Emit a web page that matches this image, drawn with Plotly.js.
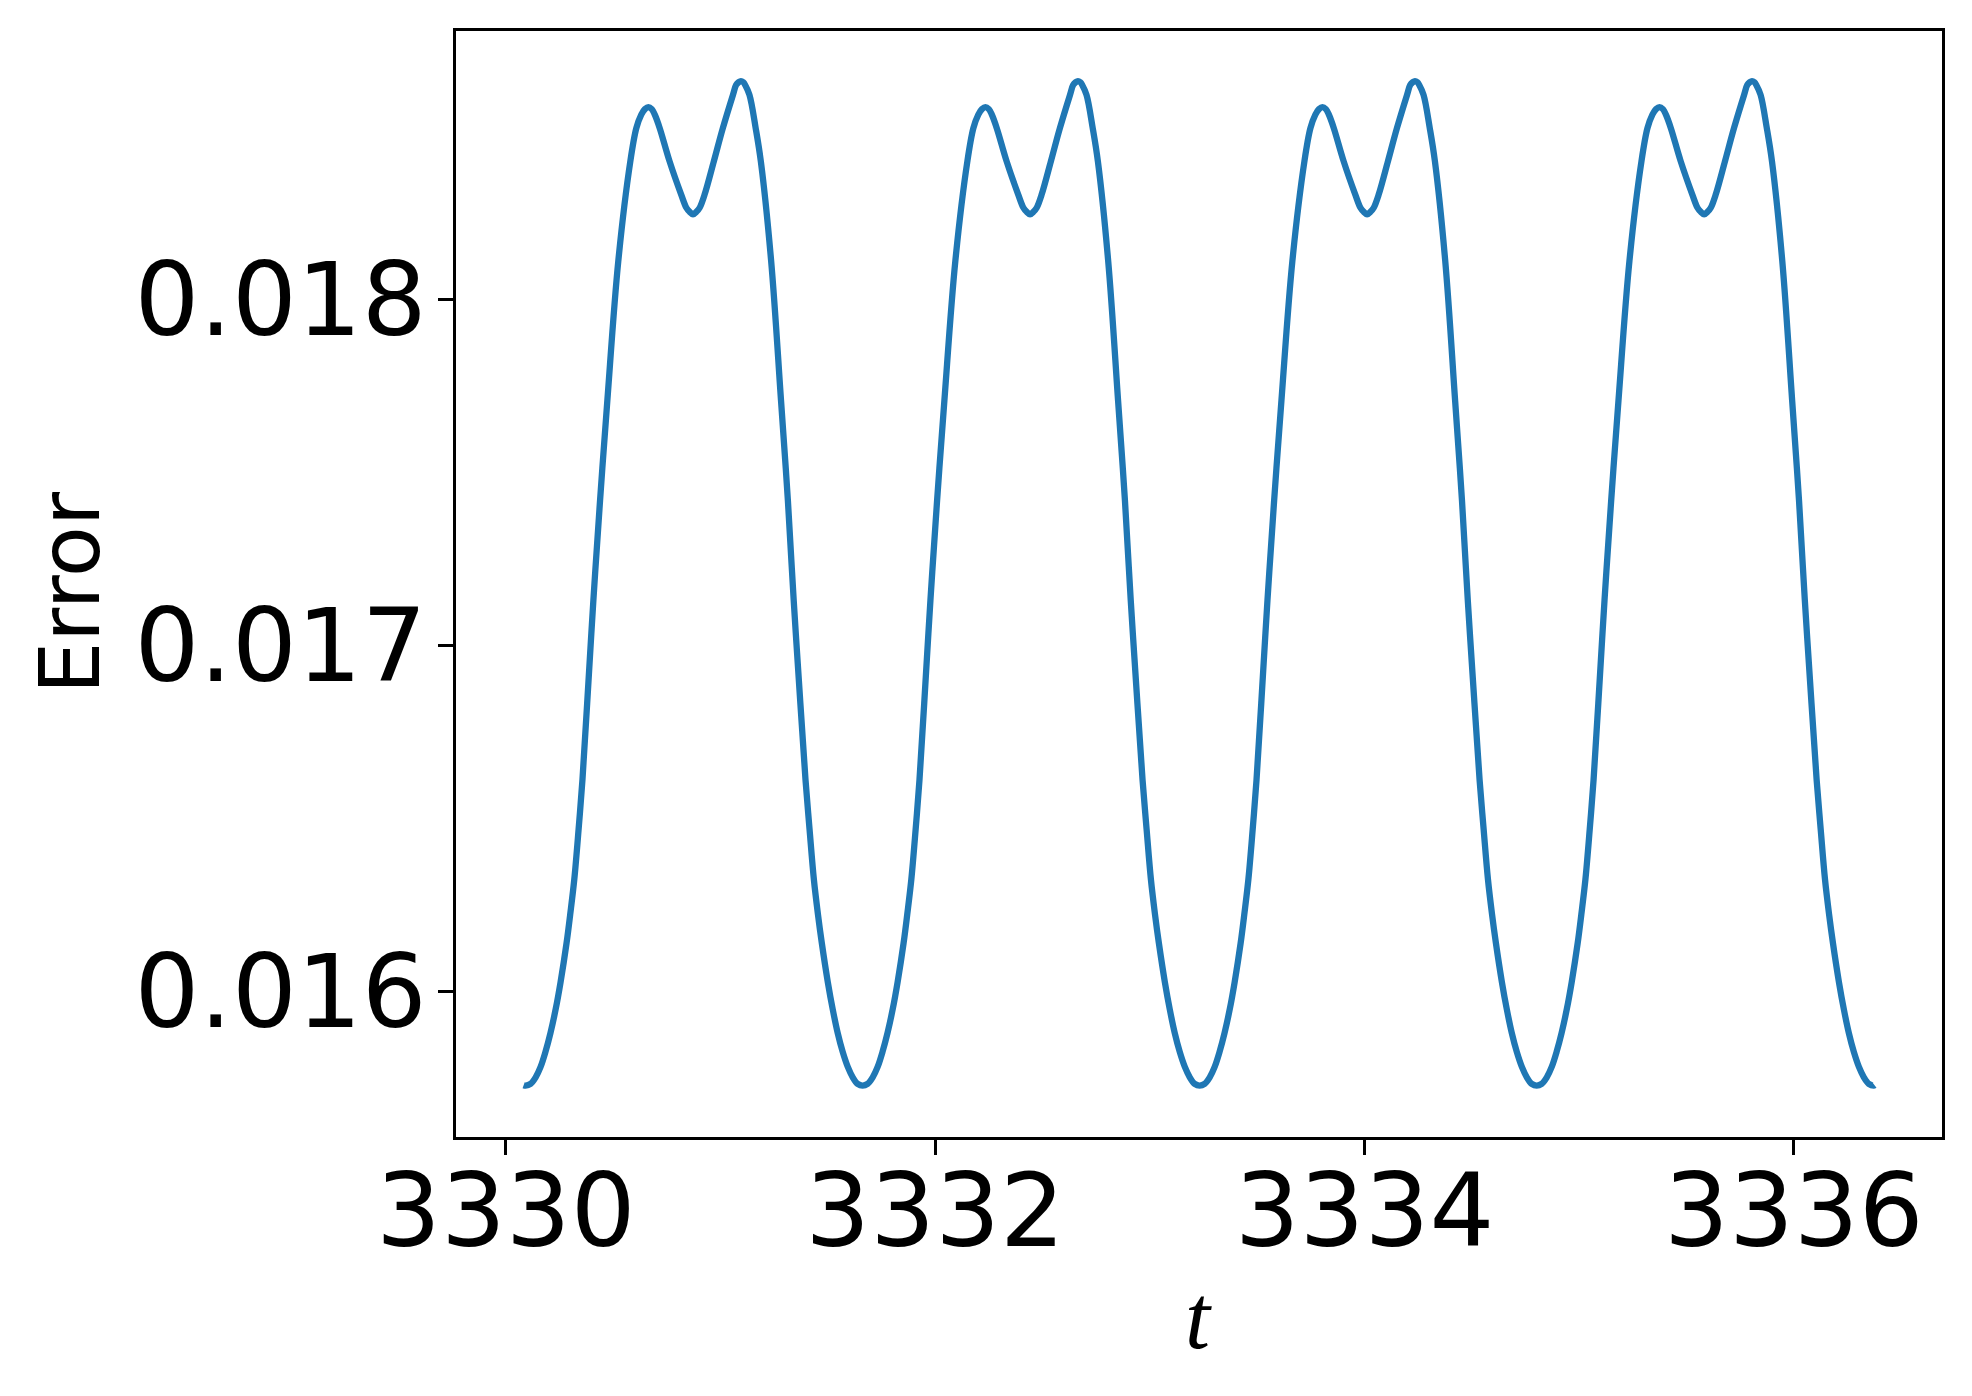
<!DOCTYPE html>
<html>
<head>
<meta charset="utf-8">
<script src="https://cdn.plot.ly/plotly-3.0.1.min.js"></script>
<style>html,body{margin:0;padding:0;background:#fff;}#chart{width:1972px;height:1396px;}</style>
</head>
<body>
<div id="chart"></div>
<script>
// Time values (t)
const tValues = [
  3330.083,
  3330.092, 3330.115, 3330.139, 3330.162, 3330.185, 3330.208, 3330.232, 3330.255, 3330.283, 3330.300,
  3330.319, 3330.339, 3330.357, 3330.380, 3330.408, 3330.439, 3330.473, 3330.524, 3330.580, 3330.608, 3330.631,
  3330.648, 3330.664, 3330.680, 3330.694, 3330.717, 3330.763, 3330.817, 3330.841, 3330.855, 3330.872,
  3330.889, 3330.903, 3330.926, 3330.969, 3331.011, 3331.058, 3331.073, 3331.085, 3331.095, 3331.106,
  3331.115, 3331.135, 3331.164, 3331.188, 3331.236, 3331.282, 3331.314, 3331.341, 3331.371, 3331.396, 3331.415,
  3331.435, 3331.454, 3331.472, 3331.500, 3331.523, 3331.546, 3331.569, 3331.593, 3331.616, 3331.639,
  3331.662,
  3331.685, 3331.709, 3331.732, 3331.755, 3331.778, 3331.802, 3331.825, 3331.853, 3331.870,
  3331.889, 3331.909, 3331.927, 3331.950, 3331.978, 3332.009, 3332.043, 3332.094, 3332.150, 3332.178, 3332.201,
  3332.218, 3332.234, 3332.250, 3332.264, 3332.287, 3332.333, 3332.387, 3332.411, 3332.425, 3332.442,
  3332.459, 3332.473, 3332.496, 3332.539, 3332.581, 3332.628, 3332.643, 3332.655, 3332.665, 3332.676,
  3332.685, 3332.705, 3332.734, 3332.758, 3332.806, 3332.852, 3332.884, 3332.911, 3332.941, 3332.966, 3332.985,
  3333.005, 3333.024, 3333.042, 3333.070, 3333.093, 3333.116, 3333.139, 3333.163, 3333.186, 3333.209,
  3333.232,
  3333.255, 3333.279, 3333.302, 3333.325, 3333.348, 3333.372, 3333.395, 3333.423, 3333.440,
  3333.459, 3333.479, 3333.497, 3333.520, 3333.548, 3333.579, 3333.613, 3333.664, 3333.720, 3333.748, 3333.771,
  3333.788, 3333.804, 3333.820, 3333.834, 3333.857, 3333.903, 3333.957, 3333.981, 3333.995, 3334.012,
  3334.029, 3334.043, 3334.066, 3334.109, 3334.151, 3334.198, 3334.213, 3334.225, 3334.235, 3334.246,
  3334.255, 3334.275, 3334.304, 3334.328, 3334.376, 3334.422, 3334.454, 3334.481, 3334.511, 3334.536, 3334.555,
  3334.575, 3334.594, 3334.612, 3334.640, 3334.663, 3334.686, 3334.709, 3334.733, 3334.756, 3334.779,
  3334.802,
  3334.825, 3334.849, 3334.872, 3334.895, 3334.918, 3334.942, 3334.965, 3334.993, 3335.010,
  3335.029, 3335.049, 3335.067, 3335.090, 3335.118, 3335.149, 3335.183, 3335.234, 3335.290, 3335.318, 3335.341,
  3335.358, 3335.374, 3335.390, 3335.404, 3335.427, 3335.473, 3335.527, 3335.551, 3335.565, 3335.582,
  3335.599, 3335.613, 3335.636, 3335.679, 3335.721, 3335.768, 3335.783, 3335.795, 3335.805, 3335.816,
  3335.825, 3335.845, 3335.874, 3335.898, 3335.946, 3335.992, 3336.024, 3336.051, 3336.081, 3336.106, 3336.125,
  3336.145, 3336.164, 3336.182, 3336.210, 3336.233, 3336.256, 3336.279, 3336.303, 3336.326, 3336.349,
  3336.372,
  3336.376
];

// Error values
const errorValues = [
  0.015729,
  0.015728, 0.015733, 0.015752, 0.015782, 0.015826, 0.015880, 0.015948, 0.016027, 0.016140, 0.016223,
  0.016324, 0.016468, 0.016612, 0.016843, 0.017131, 0.017419, 0.017708, 0.018111, 0.018399, 0.018495, 0.018534,
  0.018550, 0.018556, 0.018550, 0.018534, 0.018495, 0.018399, 0.018303, 0.018265, 0.018254, 0.018246,
  0.018254, 0.018265, 0.018303, 0.018399, 0.018495, 0.018591, 0.018620, 0.018628, 0.018631, 0.018628,
  0.018620, 0.018591, 0.018495, 0.018399, 0.018111, 0.017708, 0.017419, 0.017131, 0.016843, 0.016612, 0.016468,
  0.016324, 0.016223, 0.016140, 0.016027, 0.015948, 0.015880, 0.015826, 0.015782, 0.015752, 0.015733,
  0.015728,
  0.015733, 0.015752, 0.015782, 0.015826, 0.015880, 0.015948, 0.016027, 0.016140, 0.016223,
  0.016324, 0.016468, 0.016612, 0.016843, 0.017131, 0.017419, 0.017708, 0.018111, 0.018399, 0.018495, 0.018534,
  0.018550, 0.018556, 0.018550, 0.018534, 0.018495, 0.018399, 0.018303, 0.018265, 0.018254, 0.018246,
  0.018254, 0.018265, 0.018303, 0.018399, 0.018495, 0.018591, 0.018620, 0.018628, 0.018631, 0.018628,
  0.018620, 0.018591, 0.018495, 0.018399, 0.018111, 0.017708, 0.017419, 0.017131, 0.016843, 0.016612, 0.016468,
  0.016324, 0.016223, 0.016140, 0.016027, 0.015948, 0.015880, 0.015826, 0.015782, 0.015752, 0.015733,
  0.015728,
  0.015733, 0.015752, 0.015782, 0.015826, 0.015880, 0.015948, 0.016027, 0.016140, 0.016223,
  0.016324, 0.016468, 0.016612, 0.016843, 0.017131, 0.017419, 0.017708, 0.018111, 0.018399, 0.018495, 0.018534,
  0.018550, 0.018556, 0.018550, 0.018534, 0.018495, 0.018399, 0.018303, 0.018265, 0.018254, 0.018246,
  0.018254, 0.018265, 0.018303, 0.018399, 0.018495, 0.018591, 0.018620, 0.018628, 0.018631, 0.018628,
  0.018620, 0.018591, 0.018495, 0.018399, 0.018111, 0.017708, 0.017419, 0.017131, 0.016843, 0.016612, 0.016468,
  0.016324, 0.016223, 0.016140, 0.016027, 0.015948, 0.015880, 0.015826, 0.015782, 0.015752, 0.015733,
  0.015728,
  0.015733, 0.015752, 0.015782, 0.015826, 0.015880, 0.015948, 0.016027, 0.016140, 0.016223,
  0.016324, 0.016468, 0.016612, 0.016843, 0.017131, 0.017419, 0.017708, 0.018111, 0.018399, 0.018495, 0.018534,
  0.018550, 0.018556, 0.018550, 0.018534, 0.018495, 0.018399, 0.018303, 0.018265, 0.018254, 0.018246,
  0.018254, 0.018265, 0.018303, 0.018399, 0.018495, 0.018591, 0.018620, 0.018628, 0.018631, 0.018628,
  0.018620, 0.018591, 0.018495, 0.018399, 0.018111, 0.017708, 0.017419, 0.017131, 0.016843, 0.016612, 0.016468,
  0.016324, 0.016223, 0.016140, 0.016027, 0.015948, 0.015880, 0.015826, 0.015782, 0.015752, 0.015733,
  0.015728,
  0.015729
];

const xTickVals = [3330, 3332, 3334, 3336];
const xTickText = ['3330', '3332', '3334', '3336'];
const yTickVals = [0.016, 0.017, 0.018];
const yTickText = ['0.016', '0.017', '0.018'];
const xTitle = '<i>t</i>';
const yTitle = 'Error';

const trace = {
  x: tValues,
  y: errorValues,
  type: 'scatter',
  mode: 'lines',
  line: {color: '#1f77b4', width: 6.3, shape: 'spline', smoothing: 1},
  hoverinfo: 'skip'
};

const axisCommon = {
  showgrid: false,
  zeroline: false,
  showline: true,
  linecolor: '#000',
  linewidth: 3,
  mirror: true,
  ticks: 'outside',
  ticklen: 15,
  tickwidth: 3,
  tickcolor: '#000',
  automargin: false,
  tickfont: {family: 'DejaVu Sans', size: 102, color: '#000'}
};

const layout = {
  width: 1972,
  height: 1396,
  autosize: false,
  paper_bgcolor: '#fff',
  plot_bgcolor: '#fff',
  showlegend: false,
  margin: {l: 456, r: 29.5, t: 30.5, b: 259, pad: 0},
  xaxis: Object.assign({}, axisCommon, {
    range: [3329.768, 3336.690],
    tickmode: 'array',
    tickvals: xTickVals,
    ticktext: xTickText,
    ticklabelstandoff: -31
  }),
  yaxis: Object.assign({}, axisCommon, {
    range: [0.0155795, 0.0187758],
    tickmode: 'array',
    tickvals: yTickVals,
    ticktext: yTickText,
    ticklabelstandoff: -9
  }),
  annotations: [
    {text: yTitle, xref: 'paper', yref: 'paper', x: -0.2596, y: 0.4918, xanchor: 'center', yanchor: 'middle',
     textangle: -90, showarrow: false, font: {family: 'DejaVu Sans', size: 83, color: '#000'}},
    {text: xTitle, xref: 'paper', yref: 'paper', x: 0.4997, y: -0.1630, xanchor: 'center', yanchor: 'middle',
     showarrow: false, font: {family: 'Liberation Serif', size: 90, color: '#000'}}
  ]
};

Plotly.newPlot('chart', [trace], layout, {staticPlot: true, displayModeBar: false});
</script>
</body>
</html>
